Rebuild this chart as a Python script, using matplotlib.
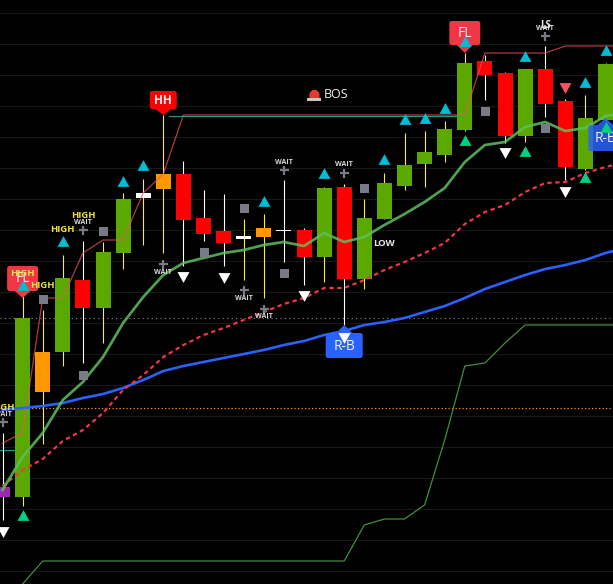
import matplotlib
matplotlib.use("Agg")
import matplotlib.pyplot as plt
from matplotlib.patches import FancyBboxPatch, Polygon, Rectangle

plt.rcParams['font.family'] = ['Open Sans', 'DejaVu Sans']

# candles, one entry per bar (inverted price scale)
body_top = [487, 318, 352, 278, 280, 252, 199, 193, 174, 174, 218, 231, 236, 228, 230, 230, 188, 187, 218, 183, 165, 152, 129, 63, 61, 73, 69, 69, 101, 118, 64]
body_bot = [497, 497, 392, 352, 308, 308, 253, 198, 189, 220, 234, 243, 239, 237, 231, 257, 257, 279, 279, 219, 186, 164, 155, 130, 75, 136, 136, 104, 167, 169, 120]
wick_top = [433, 295, 310, 255, 241, 242, 193, 179, 115, 161, 190, 194, 219, 214, 180, 228, 187, 184, 199, 173, 133, 131, 121, 53, 55, 72, 69, 46, 99, 95, 63]
wick_bot = [520, 506, 444, 366, 363, 343, 269, 245, 253, 266, 241, 266, 280, 298, 262, 285, 282, 325, 289, 219, 190, 187, 162, 131, 100, 143, 142, 117, 180, 170, 121]
body_color = ['#9c27b0', '#5ba800', '#ff9800', '#5ba800', '#ff0000', '#5ba800', '#5ba800', '#ffffff',
              '#ff9800', '#ff0000', '#ff0000', '#ff0000', '#ffffff', '#ff9800', '#ffffff', '#ff0000',
              '#5ba800', '#ff0000', '#5ba800', '#5ba800', '#5ba800', '#5ba800', '#5ba800', '#5ba800',
              '#ff0000', '#ff0000', '#5ba800', '#ff0000', '#ff0000', '#5ba800', '#5ba800']
wick_color = ['#ffffff', '#ffeb3b', '#ffeb3b', '#ffeb3b', '#ffffff', '#ffeb3b', '#ffeb3b', '#ffeb3b',
              '#ffeb3b', '#ffffff', '#ffffff', '#ffffff', '#ffeb3b', '#ffeb3b', '#ffffff', '#ffffff',
              '#ffeb3b', '#ffffff', '#ffeb3b', '#ffeb3b', '#ffeb3b', '#ffeb3b', '#ffeb3b', '#ffeb3b',
              '#ffffff', '#ffffff', '#ffeb3b', '#ffffff', '#ffffff', '#ffeb3b', '#ffeb3b']

# moving averages, bars 0..31 (31 is just off the right edge)
ma_green = [490, 457, 433, 400, 382, 357, 323, 297, 275, 263, 258, 253, 250, 245, 242, 246, 233, 242, 237, 225, 214, 202, 188, 162, 145, 142, 127, 122, 131, 128, 116, 112]
ma_red = [486, 470, 459, 441, 430, 413, 390, 375, 357, 345, 335, 328, 320, 312, 304, 298, 288, 288, 280, 270, 262, 253, 243, 224, 212, 205, 192, 183, 182, 173, 167, 162]
ma_blue = [410, 408, 406, 403, 398, 394, 388, 380, 371, 366, 362, 358, 354, 350, 345, 341, 335, 331, 325, 322, 318, 312, 306, 298, 289, 282, 275, 269, 265, 260, 253, 248]
upper_step = [443, 433, 298, 298, 253, 240, 240, 193, 174, 115, 115, 115, 115, 115, 115, 115, 115, 115, 115, 115, 115, 115, 115, 115, 53, 53, 53, 53, 46, 46, 46, 46]
lower_step = [610, 584, 561, 561, 561, 561, 561, 561, 561, 561, 561, 561, 561, 561, 561, 561, 561, 561, 525, 519, 519, 505, 440, 366, 363, 343, 325, 325, 325, 325, 325, 325]
all_bars = list(range(32))

grid_levels = [13, 44, 75, 106, 137, 168, 199, 230, 261, 292, 323, 354, 385, 416, 447, 478, 509, 540, 571]
gray_level = 318
orange_level = 408

# signal markers as (bar, level)
cyan_up = [(1, 285), (3, 241), (6, 181), (7, 165), (13, 201), (16, 173), (19, 159), (20, 119), (21, 118), (22, 108), (23, 41), (26, 56), (29, 82), (30, 50)]
green_up = [(1, 515), (23, 140), (26, 151), (29, 177), (30, 127)]
white_down = [(0, 532), (9, 277), (11, 278), (15, 296), (17, 338), (25, 153), (28, 192)]
red_down = [(28, 88)]
gray_square = [(2, 299), (4, 375), (5, 231), (10, 252), (12, 208), (14, 273), (18, 188), (24, 111), (27, 128)]
gray_plus = [(0, 422), (4, 230), (8, 264), (12, 290), (13, 309), (14, 170), (17, 173), (27, 36)]
wait_text = [(0, 414), (4, 223), (8, 272), (12, 298), (13, 317), (14, 162), (17, 165), (27, 28)]
high_text = [(1, 273), (2, 286), (3, 230), (4, 216), (0, 408)]

# callouts: text, bar, box top, box bottom, tip, half width in bars, colour, text weight, text size
callouts = [('FL', 1, 266, 291, 298, 0.77, '#f23645', 'normal', 10),
            ('FL', 23, 21, 45, 53, 0.77, '#f23645', 'normal', 10),
            ('HH', 8, 91, 109, 115, 0.67, '#ff0000', 'bold', 8.5),
            ('R-B', 17, 333, 358, 325, 0.92, '#2962ff', 'normal', 10),
            ('R-B', 30, 125, 151, 118, 0.85, '#2962ff', 'normal', 10)]

up_shape = [(-1, -0.9), (1, -0.9), (0, 0.9)]
down_shape = [(-1, 0.9), (1, 0.9), (0, -0.9)]


def px(n):
    # pixels to points
    return n * 0.72


fig = plt.figure(figsize=(6.13, 5.84), dpi=100, facecolor='black')
ax = fig.add_axes([0, 0, 1, 1], facecolor='black')
ax.set_xlim(-2.5 / 20.1, 610.5 / 20.1)
ax.set_ylim(584, 0)
ax.set_xticks([])
ax.set_yticks(grid_levels)
ax.tick_params(left=False, labelleft=False)
ax.grid(axis='y', color='#171717', linewidth=0.8)
ax.set_axisbelow(True)
for s in ax.spines.values():
    s.set_visible(False)

ax.axhline(gray_level, color='#8a8a8a', linewidth=0.8, linestyle=(0, (1, 3)), zorder=1)
ax.axhline(orange_level, color='#ff9800', linewidth=0.9, linestyle=(0, (1, 1.8)), zorder=1)

# thin teal lines sitting below the red step
ax.plot([8.3, 23], [115.8, 115.8], color='#1f9e8f', linewidth=0.8, zorder=1.5)
ax.plot([-0.1, 1], [450, 450], color='#1f9e8f', linewidth=0.8, zorder=1.5)
ax.plot(all_bars, lower_step, color='#3f8f3f', linewidth=0.9, zorder=2)

bars = list(range(len(body_top)))
ax.vlines(bars, wick_top, wick_bot, colors=wick_color, linewidth=px(1.1), zorder=3)
heights = [b - t for t, b in zip(body_top, body_bot)]
ax.bar(bars, heights, bottom=body_top, width=15 / 20.1, color=body_color, linewidth=0, zorder=4)

ax.plot(all_bars, upper_step, color='#f7525f', linewidth=0.9, alpha=0.7, zorder=5)
ax.plot(all_bars, ma_blue, color='#2962ff', linewidth=px(2.6), zorder=5)
ax.plot(all_bars, ma_red, color='#f23645', linewidth=px(2.2), linestyle=(0, (2, 1.6)), zorder=5)
ax.plot(all_bars, ma_green, color='#5fbf5f', linewidth=px(2.7), alpha=0.85, zorder=5)

# callout boxes
for label, bar, top, bot, tip, half, col, weight, size in callouts:
    alpha = 0.85 if bar == 30 else 1
    mid = (top + bot) / 2
    ax.add_patch(FancyBboxPatch((bar - half, top), 2 * half, bot - top,
                                boxstyle='round,pad=0,rounding_size=0.12', mutation_aspect=20,
                                facecolor=col, edgecolor='none', alpha=alpha, zorder=6))
    base = bot if tip > bot else top
    ax.add_patch(Polygon([(bar - 0.4, base), (bar + 0.4, base), (bar, tip)],
                         facecolor=col, edgecolor='none', alpha=alpha, zorder=6))
    ax.text(bar, mid + 0.5, label, color='#f2f2f2', fontsize=size, fontweight=weight,
            ha='center', va='center', zorder=7)


def scatter(points, marker, color, size, z=8):
    ax.plot([p[0] for p in points], [p[1] for p in points], linestyle='none', marker=marker,
            color=color, markersize=px(size), markeredgewidth=0, zorder=z)


scatter(cyan_up, up_shape, '#00bcd4', 12)
scatter(green_up, up_shape, '#00d084', 12)
scatter(white_down, down_shape, '#ffffff', 12)
scatter(red_down, down_shape, '#f7525f', 12)
scatter(gray_square, 's', '#787b86', 9)
ax.plot([p[0] for p in gray_plus], [p[1] for p in gray_plus], linestyle='none', marker='+',
        color='#787b86', markersize=px(9), markeredgewidth=1.6, zorder=8)

for bar, y in wait_text:
    ax.text(bar, y, 'WAIT', color='#d8d8d8', fontsize=5, fontweight='bold', ha='center', va='center', zorder=9)
for bar, y in high_text:
    ax.text(bar, y, 'HIGH', color='#f0df4a', fontsize=6.8, fontweight='bold', ha='center', va='center', zorder=9)
ax.text(27, 25, 'LS', color='#e8e8e8', fontsize=7, fontweight='bold', ha='center', va='center', zorder=9)
ax.text(18.45, 244, 'LOW', color='#e8e8e8', fontsize=6.8, fontweight='bold', ha='left', va='center', zorder=9)
ax.text(16, 95, 'BOS', color='#f0f0f0', fontsize=9, ha='left', va='center', zorder=9)

# little siren next to BOS
ax.add_patch(Polygon([(15.27, 98), (15.27, 93), (15.42, 90), (15.62, 90), (15.77, 93), (15.77, 98)],
                     facecolor='#e53935', edgecolor='none', zorder=9))
ax.add_patch(Rectangle((15.17, 98), 0.7, 3, facecolor='#c8c8c8', edgecolor='none', zorder=9))

fig.savefig('out.png', dpi=100, facecolor='black')
